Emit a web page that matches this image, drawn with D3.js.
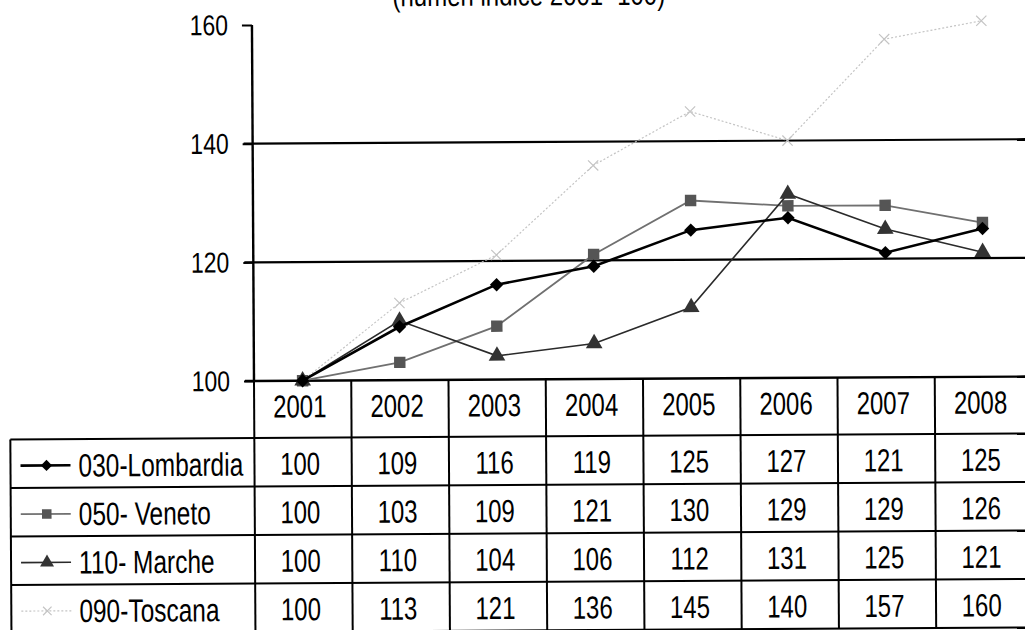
<!DOCTYPE html>
<html>
<head>
<meta charset="utf-8">
<script src="https://cdn.jsdelivr.net/npm/d3@7"></script>
<style>
    body { margin: 0; background: #fff; }
    svg { display: block; font-family: "Liberation Sans", Arial, sans-serif; }
</style>
</head>
<body>
<div id="chart"></div>
<script>
// chart data
const years = ["2001", "2002", "2003", "2004", "2005", "2006", "2007", "2008"];
const lombardia = [100, 109, 116, 119, 125, 127, 121, 125];
const veneto = [100, 103, 109, 121, 130, 129, 129, 126];
const marche = [100, 110, 104, 106, 112, 131, 125, 121];
const toscana = [100, 113, 121, 136, 145, 140, 157, 160];
const seriesNames = ["030-Lombardia", "050- Veneto", "110- Marche", "090-Toscana"];
const yTicks = [100, 120, 140, 160];
const title = "(numeri indice 2001=100)";

const W = 1025, H = 630;

const root = d3.select("#chart").append("svg")
    .attr("width", W)
    .attr("height", H);

// plot area
const plotLeft = 254, plotRight = 1032;
const x = d3.scaleBand().domain(years).range([plotLeft, plotRight]).padding(0);
const y = d3.scaleLinear().domain([100, 160]).range([381, 25]);
const cx = (d) => x(d) + x.bandwidth() / 2;

// the scan is a little tilted, so rotate everything slightly
const svg = root.append("g")
    .attr("transform", `rotate(-0.33, ${plotLeft}, ${y(100)})`);

// table rows
const rowTop = 438, rowH = 48.5;
const legendLeft = 10;

// wide diamond like the Excel marker
const diamond = {
    draw(ctx, size) {
        const r = Math.sqrt(size / 2);
        ctx.moveTo(0, -r);
        ctx.lineTo(r, 0);
        ctx.lineTo(0, r);
        ctx.lineTo(-r, 0);
        ctx.closePath();
    }
};

const series = [
    { name: seriesNames[0], values: lombardia, stroke: "#000", width: 2.6, dash: null, symbol: diamond, size: 90, fill: "#000" },
    { name: seriesNames[1], values: veneto, stroke: "#707070", width: 1.8, dash: null, symbol: d3.symbolSquare, size: 130, fill: "#555" },
    { name: seriesNames[2], values: marche, stroke: "#2a2a2a", width: 1.6, dash: null, symbol: d3.symbolTriangle, size: 120, fill: "#333" },
    { name: seriesNames[3], values: toscana, stroke: "#c4c4c4", width: 1.2, dash: "2,2", symbol: d3.symbolX, size: 70, fill: "none" }
];

function addText(g, str, px, py, anchor, size, sy) {
    g.append("text")
        .attr("transform", `translate(${px},${py}) scale(1,${sy})`)
        .attr("text-anchor", anchor)
        .attr("dominant-baseline", "central")
        .attr("font-size", size)
        .attr("fill", "#000")
        .text(str);
}

// title (cut off at top in the original)
svg.append("text")
    .attr("transform", "translate(531,7) scale(1,1.25)")
    .attr("text-anchor", "middle")
    .attr("font-size", 24)
    .text(title);

// gridlines
svg.append("g")
    .selectAll("line")
    .data(yTicks.filter((t) => t > 100 && t < 160))
    .join("line")
    .attr("x1", 245)
    .attr("x2", W + 10)
    .attr("y1", (d) => y(d))
    .attr("y2", (d) => y(d))
    .attr("stroke", "#000")
    .attr("stroke-width", 2.2);

// y axis
const yAxis = svg.append("g")
    .attr("transform", `translate(${plotLeft},0)`)
    .call(d3.axisLeft(y).tickValues(yTicks).tickSize(10).tickFormat(""));
yAxis.select(".domain").attr("stroke", "#000").attr("stroke-width", 2.4).attr("d", `M0,${y(160)}V${y(100)}`);
yAxis.selectAll(".tick line").attr("stroke", "#000").attr("stroke-width", 2);

const labels = svg.append("g");
yTicks.forEach((t) => addText(labels, t, 230, y(t), "end", 23, 1.25));

// x axis line / header top
svg.append("line")
    .attr("x1", 245).attr("x2", plotRight)
    .attr("y1", y(100)).attr("y2", y(100))
    .attr("stroke", "#000").attr("stroke-width", 2.4);

// data table
const table = svg.append("g");
const tableBottom = rowTop + rowH * series.length;

// horizontal rules
d3.range(series.length + 1).forEach((i) => {
    table.append("line")
        .attr("x1", legendLeft).attr("x2", plotRight)
        .attr("y1", rowTop + i * rowH).attr("y2", rowTop + i * rowH)
        .attr("stroke", "#000").attr("stroke-width", 2);
});

// vertical rules
table.append("line")
    .attr("x1", legendLeft).attr("x2", legendLeft)
    .attr("y1", rowTop).attr("y2", tableBottom)
    .attr("stroke", "#000").attr("stroke-width", 2);

table.selectAll(".col")
    .data(years.concat(["end"]))
    .join("line")
    .attr("class", "col")
    .attr("x1", (d, i) => plotLeft + i * x.bandwidth())
    .attr("x2", (d, i) => plotLeft + i * x.bandwidth())
    .attr("y1", y(100))
    .attr("y2", tableBottom)
    .attr("stroke", "#000")
    .attr("stroke-width", 2);

// header years
years.forEach((yr) => addText(table, yr, cx(yr) - 3, 407, "middle", 24, 1.32));

// values + legend keys
series.forEach((s, r) => {
    const my = rowTop + r * rowH + rowH / 2 + 2;
    s.values.forEach((v, i) => addText(table, v, cx(years[i]) - 3, my, "middle", 24, 1.32));

    table.append("line")
        .attr("x1", 20).attr("x2", 70)
        .attr("y1", my).attr("y2", my)
        .attr("stroke", s.stroke)
        .attr("stroke-width", s.width)
        .attr("stroke-dasharray", s.dash);
    table.append("path")
        .attr("d", d3.symbol(s.symbol, s.size * 0.7)())
        .attr("transform", `translate(46,${my})`)
        .attr("fill", s.fill)
        .attr("stroke", s.fill === "none" ? s.stroke : "none")
        .attr("stroke-width", 1.2);

    addText(table, s.name, 78, my, "start", 24.5, 1.32);
});

// lines (draw light series first so dark ones sit on top)
const line = d3.line()
    .x((d, i) => cx(years[i]))
    .y((d) => y(d));

const drawOrder = [3, 1, 2, 0];
drawOrder.forEach((k) => {
    const s = series[k];
    const g = svg.append("g");
    g.append("path")
        .datum(s.values)
        .attr("d", line)
        .attr("fill", "none")
        .attr("stroke", s.stroke)
        .attr("stroke-width", s.width)
        .attr("stroke-dasharray", s.dash);

    g.selectAll("path.mark")
        .data(s.values)
        .join("path")
        .attr("class", "mark")
        .attr("d", d3.symbol(s.symbol, s.size)())
        .attr("transform", (d, i) => `translate(${cx(years[i])},${y(d)})`)
        .attr("fill", s.fill)
        .attr("stroke", s.fill === "none" ? s.stroke : "none")
        .attr("stroke-width", 1.2);
});
</script>
</body>
</html>
